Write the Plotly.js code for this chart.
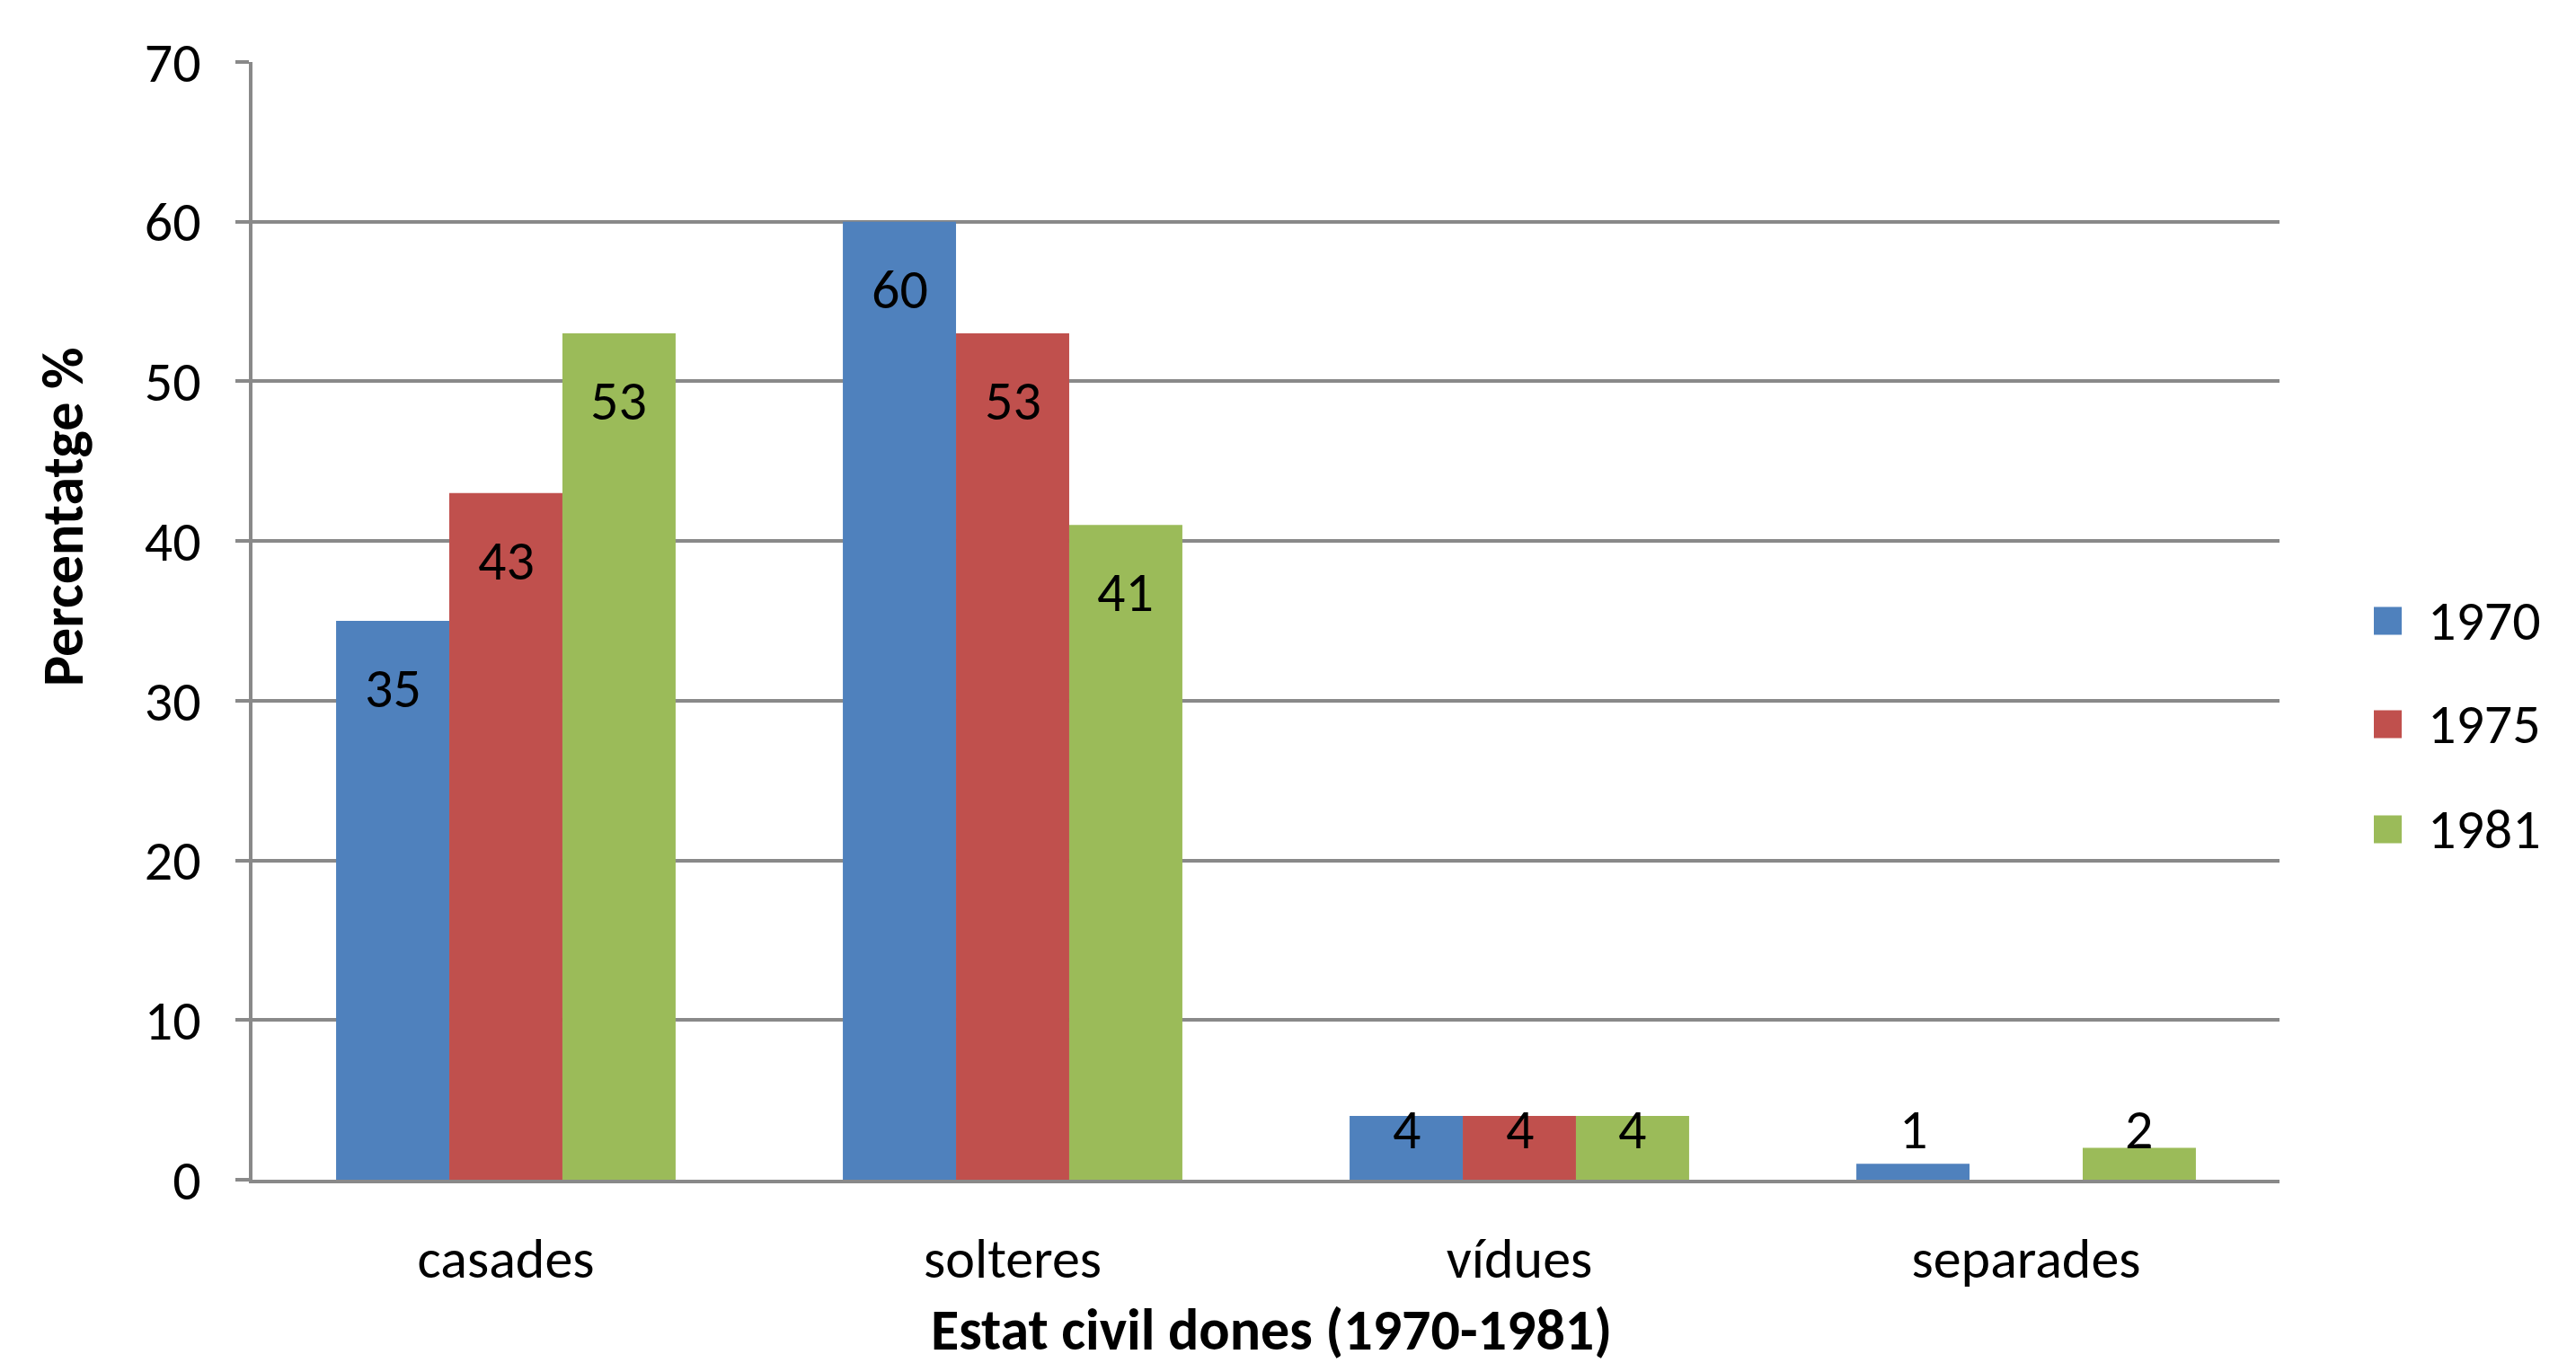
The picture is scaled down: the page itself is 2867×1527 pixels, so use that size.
<!DOCTYPE html>
<html>
<head>
<meta charset="utf-8">
<script src="https://cdn.plot.ly/plotly-3.0.1.min.js"></script>
<style>html,body{margin:0;padding:0;background:#fff;}#chart{width:2867px;height:1527px;}</style>
</head>
<body>
<div id="chart"></div>
<script>
// ---- data ----
const categories = ["casades", "solteres", "vídues", "separades"];
const seriesNames = ["1970", "1975", "1981"];
const values1970 = [35, 60, 4, 1];
const values1975 = [43, 53, 4, 0];
const values1981 = [53, 41, 4, 2];
const seriesColors = ["#4F81BD", "#C0504D", "#9BBB59"];
const yTickVals = [0, 10, 20, 30, 40, 50, 60, 70];
const xTitle = "Estat civil dones (1970-1981)";
const yTitle = "Percentatge %";

// ---- layout constants ----
const W = 2867, H = 1527;
const M = {l: 281, r: 330, t: 69, b: 214};
const plotW = W - M.l - M.r, plotH = H - M.t - M.b;
const yMax = 70;
const bargap = 0.33;
const FONT = "Carlito, Calibri, Lato, sans-serif";
const GRID = "#898989";
const TXT = 62;

const allSeries = [values1970, values1975, values1981];
const traces = allSeries.map((vals, j) => ({
  type: "bar",
  name: seriesNames[j],
  x: categories,
  y: vals,
  marker: {color: seriesColors[j], line: {width: 0}},
  showlegend: false,
  hoverinfo: "skip"
}));

// data labels (Excel "inside end" style)
const barW = (1 - bargap) / allSeries.length;
const pxPerUnit = plotH / yMax;
const labelOffset = 75, minCenter = 56;
const annotations = [];
allSeries.forEach((vals, j) => {
  vals.forEach((v, i) => {
    if (!v) return;
    const xPos = i + (j - (allSeries.length - 1) / 2) * barW;
    const fits = v * pxPerUnit - labelOffset >= minCenter;
    annotations.push({
      xref: "x", yref: "y", x: xPos,
      y: fits ? v : 0,
      yshift: fits ? -labelOffset : minCenter,
      yanchor: "middle", xanchor: "center",
      text: String(v), showarrow: false,
      font: {family: FONT, size: TXT, color: "#000"}
    });
  });
});

// custom legend (large squares)
const legLeftPx = 2642, legSq = 31, legTextPx = 2700;
const legCentersPx = [691, 806, 923];
const shapes = [];
seriesNames.forEach((nm, j) => {
  const cy = (M.t + plotH - legCentersPx[j]) / plotH;
  const x0 = (legLeftPx - M.l) / plotW;
  shapes.push({
    type: "rect", xref: "paper", yref: "paper",
    x0: x0, x1: x0 + legSq / plotW,
    y0: cy - legSq / 2 / plotH, y1: cy + legSq / 2 / plotH,
    fillcolor: seriesColors[j], line: {width: 0}
  });
  annotations.push({
    xref: "paper", yref: "paper",
    x: (legTextPx - M.l) / plotW, y: cy,
    xanchor: "left", yanchor: "middle",
    text: nm, showarrow: false,
    font: {family: FONT, size: TXT, color: "#000"}
  });
});

// axis titles
const yTitleCenterPx = {x: 70, y: 575};
const xTitleCenterPx = {x: 1415, y: 1480};
annotations.push({
  xref: "paper", yref: "paper",
  x: (yTitleCenterPx.x - M.l) / plotW, y: (M.t + plotH - yTitleCenterPx.y) / plotH,
  xanchor: "center", yanchor: "middle", textangle: -90,
  text: "<b>" + yTitle + "</b>", showarrow: false,
  font: {family: FONT, size: 64, color: "#000"}
});
annotations.push({
  xref: "paper", yref: "paper",
  x: (xTitleCenterPx.x - M.l) / plotW, y: (M.t + plotH - xTitleCenterPx.y) / plotH,
  xanchor: "center", yanchor: "middle",
  text: "<b>" + xTitle + "</b>", showarrow: false,
  font: {family: FONT, size: 64, color: "#000"}
});

const layout = {
  width: W, height: H,
  margin: M,
  paper_bgcolor: "#fff", plot_bgcolor: "#fff",
  barmode: "group", bargap: bargap, bargroupgap: 0,
  showlegend: false,
  font: {family: FONT, color: "#000"},
  xaxis: {
    type: "category",
    showgrid: false, zeroline: false,
    showline: true, linecolor: GRID, linewidth: 4,
    ticks: "", ticklabelstandoff: 31,
    tickfont: {family: FONT, size: TXT, color: "#000"}
  },
  yaxis: {
    range: [0, yMax], tickvals: yTickVals,
    showgrid: true, gridcolor: GRID, gridwidth: 4,
    zeroline: false,
    showline: true, linecolor: GRID, linewidth: 4,
    ticks: "outside", ticklen: 15, tickwidth: 4, tickcolor: GRID,
    ticklabelstandoff: 26,
    tickfont: {family: FONT, size: TXT, color: "#000"}
  },
  annotations: annotations,
  shapes: shapes
};

Plotly.newPlot("chart", traces, layout, {staticPlot: true, displayModeBar: false});
</script>
</body>
</html>
